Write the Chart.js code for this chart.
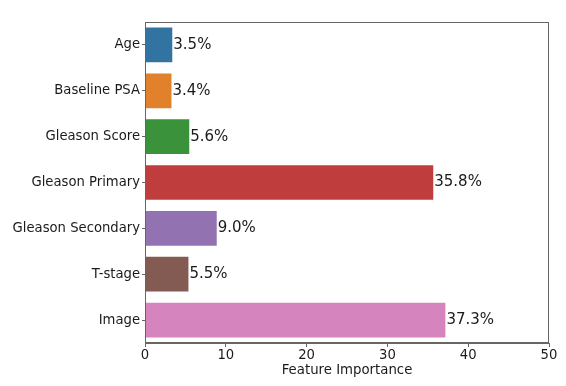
<!DOCTYPE html>
<html>
<head>
<meta charset="utf-8">
<script src="https://cdn.jsdelivr.net/npm/chart.js@4"></script>
<style>
  html, body { margin: 0; padding: 0; background: #fff; }
  #wrap { width: 566px; height: 386px; }
</style>
</head>
<body>
<div id="wrap"><canvas id="chart"></canvas></div>
<script>
const features = ["Age", "Baseline PSA", "Gleason Score", "Gleason Primary", "Gleason Secondary", "T-stage", "Image"];
const importance = [3.5, 3.4, 5.6, 35.8, 9.0, 5.5, 37.3];
const barColors = ["#3274a1", "#e1812c", "#3a923a", "#c03d3e", "#9372b2", "#845b53", "#d684bd"];
const xTicks = [0, 10, 20, 30, 40, 50];

const FONT = "'DejaVu Sans', sans-serif";
const AXIS_COLOR = "#666";
const TEXT_COLOR = "#1a1a1a";

// box round the plot, like matplotlib spines
const frame = {
  id: "frame",
  afterDraw(chart) {
    const { ctx, chartArea: a } = chart;
    ctx.save();
    ctx.strokeStyle = AXIS_COLOR;
    ctx.lineWidth = 1;
    ctx.strokeRect(a.left + 0.5, a.top + 0.5, a.right - a.left - 1, a.bottom - a.top - 1);
    ctx.restore();
  },
};

// "3.5%" labels at the end of each bar
const valueLabels = {
  id: "valueLabels",
  afterDatasetsDraw(chart) {
    const { ctx } = chart;
    const meta = chart.getDatasetMeta(0);
    ctx.save();
    ctx.font = "15px " + FONT;
    ctx.fillStyle = TEXT_COLOR;
    ctx.textBaseline = "middle";
    ctx.textAlign = "left";
    meta.data.forEach((bar, i) => {
      ctx.fillText(importance[i].toFixed(1) + "%", bar.x, bar.y);
    });
    ctx.restore();
  },
};

new Chart(document.getElementById("chart"), {
  type: "bar",
  data: {
    labels: features,
    datasets: [{
      data: importance,
      backgroundColor: barColors,
      borderColor: "rgba(255,255,255,0.6)",
      borderWidth: 1,
      categoryPercentage: 0.8,
      barPercentage: 1.0,
    }],
  },
  options: {
    indexAxis: "y",
    responsive: true,
    maintainAspectRatio: false,
    animation: false,
    layout: { padding: { top: 22, right: 17, left: 0, bottom: 7 } },
    plugins: {
      legend: { display: false },
      tooltip: { enabled: false },
    },
    scales: {
      x: {
        min: 0,
        max: 50,
        afterBuildTicks: (axis) => { axis.ticks = xTicks.map((v) => ({ value: v })); },
        afterFit: (axis) => { axis.height = 36; },
        grid: { display: true, drawOnChartArea: false, drawTicks: true, tickLength: 4, color: AXIS_COLOR },
        border: { display: true, color: AXIS_COLOR },
        ticks: { color: TEXT_COLOR, font: { family: FONT, size: 13.2 }, padding: 1, maxRotation: 0 },
        title: {
          display: true,
          text: "Feature Importance",
          color: TEXT_COLOR,
          font: { family: FONT, size: 13.3 },
          padding: { top: 0, bottom: 0 },
        },
      },
      y: {
        afterFit: (axis) => { axis.width = 145; },
        grid: { display: true, offset: false, drawOnChartArea: false, drawTicks: true, tickLength: 3, color: AXIS_COLOR },
        border: { display: true, color: AXIS_COLOR },
        ticks: { color: TEXT_COLOR, font: { family: FONT, size: 13.2 }, padding: 2 },
      },
    },
  },
  plugins: [frame, valueLabels],
});
</script>
</body>
</html>
